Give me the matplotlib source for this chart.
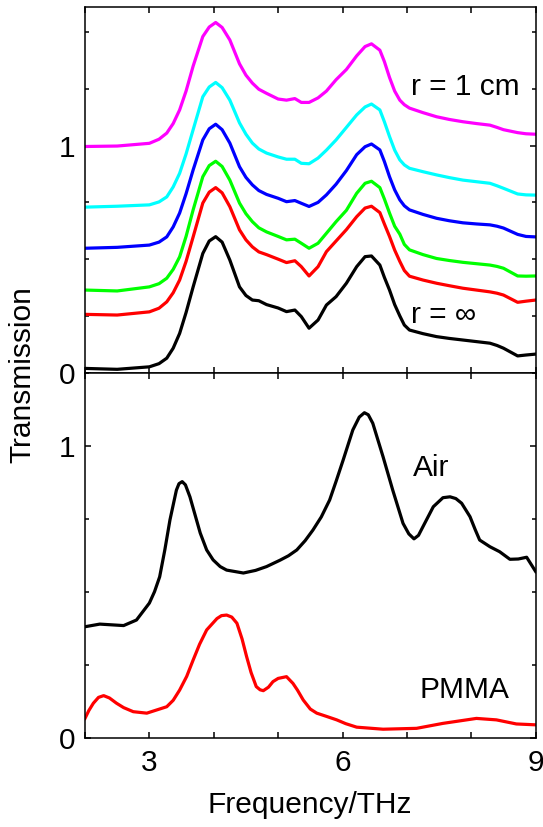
import numpy as np
import matplotlib.pyplot as plt
from matplotlib.ticker import MultipleLocator, FixedLocator

plt.rcParams['font.family'] = ['Liberation Sans', 'DejaVu Sans']

# frequency grid (THz) for the bend-radius series
f_top = [2.0, 2.5, 3.0, 3.15, 3.27, 3.37, 3.47, 3.57, 3.68, 3.83, 3.93, 4.03,
         4.13, 4.25, 4.4, 4.5, 4.6, 4.7, 4.82, 5.0, 5.13, 5.26, 5.36, 5.48,
         5.62, 5.75, 5.9, 6.06, 6.22, 6.35, 6.45, 6.58, 6.65, 6.73, 6.81, 6.89,
         6.96, 7.04, 7.25, 7.46, 7.66, 7.87, 8.08, 8.29, 8.4, 8.5, 8.72, 8.85,
         9.0]

t_1cm = [0.996, 0.998, 1.01, 1.028, 1.055, 1.097, 1.157, 1.24, 1.35, 1.48,
         1.522, 1.542, 1.52, 1.465, 1.36, 1.31, 1.275, 1.248, 1.23, 1.205,
         1.20, 1.207, 1.19, 1.19, 1.21, 1.24, 1.29, 1.335, 1.395, 1.436, 1.448,
         1.42, 1.37, 1.30, 1.24, 1.20, 1.18, 1.165, 1.145, 1.127, 1.115, 1.105,
         1.097, 1.09, 1.08, 1.07, 1.057, 1.052, 1.05]
t_cyan = [0.729, 0.733, 0.739, 0.752, 0.774, 0.818, 0.878, 0.963, 1.07, 1.215,
          1.258, 1.278, 1.255, 1.20, 1.10, 1.05, 1.011, 0.985, 0.967, 0.95,
          0.94, 0.94, 0.922, 0.92, 0.945, 0.98, 1.025, 1.08, 1.135, 1.17,
          1.183, 1.157, 1.105, 1.04, 0.98, 0.937, 0.915, 0.90, 0.885, 0.871,
          0.859, 0.848, 0.841, 0.834, 0.823, 0.812, 0.787, 0.783, 0.782]
t_blue = [0.548, 0.552, 0.562, 0.575, 0.598, 0.642, 0.703, 0.788, 0.893, 1.025,
          1.074, 1.094, 1.07, 1.011, 0.907, 0.86, 0.827, 0.802, 0.785, 0.768,
          0.753, 0.758, 0.746, 0.732, 0.75, 0.783, 0.83, 0.89, 0.96, 0.995,
          1.007, 0.981, 0.93, 0.863, 0.805, 0.761, 0.735, 0.717, 0.697, 0.68,
          0.669, 0.66, 0.655, 0.651, 0.645, 0.637, 0.609, 0.60, 0.598]
t_green = [0.364, 0.36, 0.378, 0.392, 0.416, 0.455, 0.51, 0.60, 0.717, 0.863,
           0.912, 0.931, 0.908, 0.848, 0.747, 0.70, 0.665, 0.638, 0.62, 0.60,
           0.585, 0.588, 0.57, 0.548, 0.57, 0.614, 0.665, 0.715, 0.79, 0.834,
           0.843, 0.815, 0.765, 0.703, 0.645, 0.61, 0.565, 0.541, 0.52, 0.503,
           0.494, 0.486, 0.48, 0.474, 0.468, 0.46, 0.426, 0.425, 0.426]
t_red = [0.257, 0.254, 0.268, 0.284, 0.312, 0.352, 0.408, 0.49, 0.598, 0.747,
         0.795, 0.815, 0.792, 0.731, 0.629, 0.585, 0.554, 0.532, 0.52, 0.50,
         0.485, 0.493, 0.467, 0.426, 0.467, 0.533, 0.58, 0.63, 0.687, 0.725,
         0.733, 0.705, 0.655, 0.60, 0.54, 0.49, 0.45, 0.425, 0.408, 0.394,
         0.383, 0.372, 0.364, 0.356, 0.35, 0.342, 0.31, 0.315, 0.32]
t_inf = [0.019, 0.015, 0.026, 0.04, 0.064, 0.108, 0.173, 0.265, 0.378, 0.525,
         0.58, 0.599, 0.575, 0.496, 0.378, 0.34, 0.32, 0.317, 0.30, 0.285,
         0.269, 0.276, 0.247, 0.196, 0.232, 0.298, 0.335, 0.394, 0.467, 0.511,
         0.514, 0.474, 0.42, 0.364, 0.30, 0.25, 0.21, 0.188, 0.172, 0.159,
         0.151, 0.144, 0.137, 0.13, 0.12, 0.108, 0.074, 0.078, 0.082]

top_series = [t_inf, t_red, t_green, t_blue, t_cyan, t_1cm]
top_colors = ['black', '#ff0000', '#00ff00', '#0000ff', '#00ffff', '#ff00ff']

# air and PMMA references
f_air = [2.0, 2.23, 2.6, 2.8, 3.0, 3.08, 3.16, 3.24, 3.32, 3.42, 3.46, 3.51,
         3.56, 3.63, 3.71, 3.79, 3.89, 3.99, 4.1, 4.2, 4.46, 4.65, 4.82, 5.03,
         5.16, 5.29, 5.42, 5.54, 5.67, 5.8, 5.9, 6.01, 6.16, 6.26, 6.34, 6.4,
         6.47, 6.63, 6.78, 6.94, 7.03, 7.11, 7.18, 7.25, 7.41, 7.56, 7.67,
         7.76, 7.85, 7.98, 8.06, 8.13, 8.29, 8.44, 8.6, 8.73, 8.86, 9.0]
t_air = [0.382, 0.391, 0.386, 0.405, 0.463, 0.502, 0.553, 0.645, 0.748, 0.85,
         0.872, 0.879, 0.868, 0.827, 0.765, 0.703, 0.645, 0.611, 0.588, 0.576,
         0.566, 0.575, 0.588, 0.61, 0.625, 0.645, 0.677, 0.713, 0.758, 0.816,
         0.88, 0.953, 1.056, 1.1, 1.115, 1.108, 1.079, 0.964, 0.85, 0.736,
         0.70, 0.683, 0.695, 0.725, 0.793, 0.824, 0.827, 0.821, 0.805, 0.759,
         0.715, 0.679, 0.656, 0.639, 0.613, 0.614, 0.62, 0.571]

f_pmma = [2.0, 2.06, 2.13, 2.21, 2.29, 2.38, 2.49, 2.6, 2.75, 2.96, 3.27, 3.37,
          3.47, 3.58, 3.68, 3.78, 3.89, 4.05, 4.12, 4.2, 4.28, 4.36, 4.44, 4.51,
          4.58, 4.66, 4.72, 4.77, 4.85, 4.92, 5.0, 5.13, 5.23, 5.3, 5.39, 5.5,
          5.6, 5.75, 5.91, 6.05, 6.22, 6.63, 7.15, 7.56, 8.08, 8.39, 8.7, 9.0]
t_pmma = [0.068, 0.095, 0.12, 0.14, 0.146, 0.138, 0.12, 0.105, 0.091, 0.086,
          0.108, 0.13, 0.165, 0.212, 0.268, 0.322, 0.371, 0.41, 0.42, 0.422,
          0.415, 0.394, 0.34, 0.28, 0.225, 0.177, 0.166, 0.163, 0.175, 0.194,
          0.205, 0.211, 0.188, 0.165, 0.131, 0.10, 0.086, 0.075, 0.063, 0.05,
          0.038, 0.031, 0.034, 0.051, 0.068, 0.063, 0.049, 0.046]

fig = plt.figure(figsize=(5.43, 8.27), dpi=100)
ax1 = fig.add_axes([0.1565, 0.5493, 0.8300, 0.4422])
ax2 = fig.add_axes([0.1565, 0.1073, 0.8300, 0.4420])

lw = 2.3
for t, c in zip(top_series, top_colors):
    ax1.plot(f_top, t, color=c, lw=lw, solid_joinstyle='round')
ax2.plot(f_air, t_air, color='black', lw=lw, solid_joinstyle='round')
ax2.plot(f_pmma, t_pmma, color='#ff0000', lw=lw, solid_joinstyle='round')

fs = 21.5
ax1.text(7.07, 1.26, 'r = 1 cm', fontsize=fs, va='center')
ax1.text(7.07, 0.254, 'r = \u221e', fontsize=fs, va='center')
ax2.text(7.10, 0.925, 'Air', fontsize=fs, va='center')
ax2.text(7.20, 0.165, 'PMMA', fontsize=fs, va='center')

for ax, ytop in [(ax1, 1.61), (ax2, 1.252)]:
    ax.set_xlim(2, 9)
    ax.set_ylim(0, ytop)
    ax.xaxis.set_major_locator(FixedLocator([3, 6, 9]))
    ax.xaxis.set_minor_locator(MultipleLocator(1))
    ax.yaxis.set_major_locator(FixedLocator([0, 1]))
    ax.yaxis.set_minor_locator(MultipleLocator(0.25))
    ax.tick_params(which='both', direction='in', top=True, right=True, width=1.1)
    ax.tick_params(which='major', length=4.3, labelsize=fs)
    ax.tick_params(which='minor', length=3.0)
    ax.tick_params(axis='x', which='minor', length=4.3)
    ax.tick_params(axis='y', pad=7)
    ax.tick_params(axis='x', pad=8)
    for s in ax.spines.values():
        s.set_linewidth(1.1)

ax1.tick_params(axis='x', labelbottom=False)
ax2.set_yticklabels(['0', '1'])
ax1.set_yticklabels(['0', '1'])

fig.text(0.0405, 0.5466, 'Transmission', rotation=90, fontsize=fs,
         ha='center', va='center')
fig.text(0.571, 0.0266, 'Frequency/THz', fontsize=fs, ha='center', va='center')

fig.savefig('out.png', dpi=100)
